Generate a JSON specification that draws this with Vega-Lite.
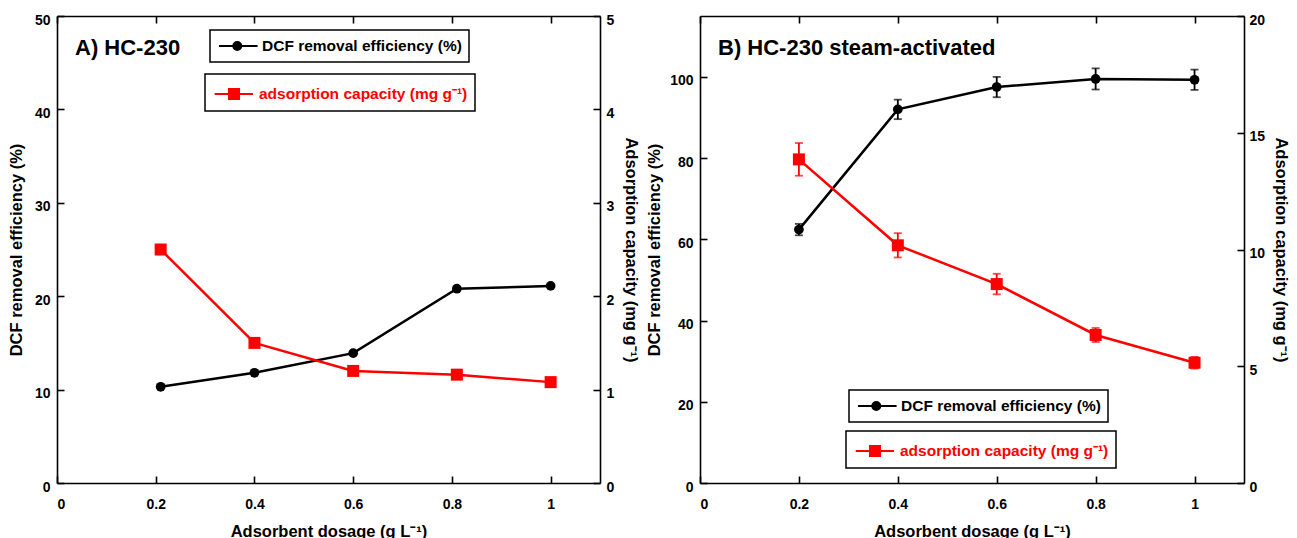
{
  "$schema": "https://vega.github.io/schema/vega-lite/v6.json",
  "background": "white",
  "padding": {"left": 8, "top": 13, "right": 0, "bottom": 0},
  "spacing": 7,
  "datasets": {
    "a_eff": [
      {"dosage": 0.21, "value": 10.3, "series": "DCF removal efficiency (%)"},
      {"dosage": 0.4, "value": 11.8, "series": "DCF removal efficiency (%)"},
      {"dosage": 0.6, "value": 13.9, "series": "DCF removal efficiency (%)"},
      {"dosage": 0.81, "value": 20.8, "series": "DCF removal efficiency (%)"},
      {"dosage": 1.0, "value": 21.1, "series": "DCF removal efficiency (%)"}
    ],
    "a_cap": [
      {"dosage": 0.21, "value": 2.5, "series": "adsorption capacity (mg g⁻¹)"},
      {"dosage": 0.4, "value": 1.5, "series": "adsorption capacity (mg g⁻¹)"},
      {"dosage": 0.6, "value": 1.2, "series": "adsorption capacity (mg g⁻¹)"},
      {"dosage": 0.81, "value": 1.16, "series": "adsorption capacity (mg g⁻¹)"},
      {"dosage": 1.0, "value": 1.08, "series": "adsorption capacity (mg g⁻¹)"}
    ],
    "b_eff": [
      {"dosage": 0.2, "value": 62.4, "err": 1.4, "series": "DCF removal efficiency (%)"},
      {"dosage": 0.4, "value": 92.0, "err": 2.4, "series": "DCF removal efficiency (%)"},
      {"dosage": 0.6, "value": 97.5, "err": 2.5, "series": "DCF removal efficiency (%)"},
      {"dosage": 0.8, "value": 99.5, "err": 2.6, "series": "DCF removal efficiency (%)"},
      {"dosage": 1.0, "value": 99.3, "err": 2.5, "series": "DCF removal efficiency (%)"}
    ],
    "b_cap": [
      {"dosage": 0.2, "value": 13.86, "err": 0.7, "series": "adsorption capacity (mg g⁻¹)"},
      {"dosage": 0.4, "value": 10.18, "err": 0.52, "series": "adsorption capacity (mg g⁻¹)"},
      {"dosage": 0.6, "value": 8.52, "err": 0.44, "series": "adsorption capacity (mg g⁻¹)"},
      {"dosage": 0.8, "value": 6.34, "err": 0.3, "series": "adsorption capacity (mg g⁻¹)"},
      {"dosage": 1.0, "value": 5.15, "err": 0.25, "series": "adsorption capacity (mg g⁻¹)"}
    ]
  },
  "hconcat": [
    {
      "width": 543,
      "height": 467,
      "title": {"text": "A) HC-230", "anchor": "start", "frame": "group", "dx": 18, "offset": -64, "baseline": "alphabetic", "font": "Liberation Sans", "fontSize": 22, "fontWeight": "bold", "color": "black"},
      "layer": [
        {
          "data": {"name": "a_eff"},
          "encoding": {
            "x": {"field": "dosage", "type": "quantitative", "scale": {"domain": [0, 1.1], "nice": false, "zero": false},
              "axis": {"orient": "bottom", "values": [0, 0.2, 0.4, 0.6, 0.8, 1], "format": "~g", "tickSize": -7, "labelPadding": 21, "title": "Adsorbent dosage (g L⁻¹)", "titlePadding": 12}},
            "y": {"field": "value", "type": "quantitative", "scale": {"domain": [0, 50], "nice": false},
              "axis": {"orient": "left", "values": [0, 10, 20, 30, 40, 50], "tickSize": -7, "labelPadding": 14, "labelOffset": 4, "title": "DCF removal efficiency (%)", "titlePadding": 10}}
          },
          "layer": [
            {
              "mark": {"type": "line", "strokeWidth": 2.5, "point": {"filled": true, "shape": "circle", "size": 95}},
              "encoding": {
                "color": {"field": "series", "type": "nominal", "scale": {"range": ["black"]},
                  "legend": {"title": null, "orient": "none", "legendX": 153, "legendY": 14, "strokeColor": "black", "fillColor": "white", "padding": 7,
                    "symbolType": "M-0.875,0H3.95M1.91,0A0.5,0.5,0,1,1,0.91,0A0.5,0.5,0,1,1,1.91,0Z", "symbolSize": 256, "symbolStrokeWidth": 2, "symbolFillColor": "black", "symbolStrokeColor": "black",
                    "labelOffset": 27, "labelColor": "black", "labelLimit": 500,
                    "encode": {"symbols": {"update": {"fill": {"value": "black"}, "stroke": {"value": "black"}, "strokeWidth": {"value": 2}, "opacity": {"value": 1}}}, "legend": {"update": {"strokeWidth": {"value": 1.5}}}}}}
              }
            }
          ]
        },
        {
          "data": {"name": "a_cap"},
          "encoding": {
            "x": {"field": "dosage", "type": "quantitative", "scale": {"domain": [0, 1.1], "nice": false, "zero": false},
              "axis": {"orient": "top", "values": [0, 0.2, 0.4, 0.6, 0.8, 1], "labels": false, "tickSize": -7, "title": null}},
            "y": {"field": "value", "type": "quantitative", "scale": {"domain": [0, 5], "nice": false},
              "axis": {"orient": "right", "values": [0, 1, 2, 3, 4, 5], "tickSize": -7, "labelPadding": 13, "labelOffset": 4, "title": "Adsorption capacity (mg g⁻¹)", "titlePadding": 9}}
          },
          "layer": [
            {
              "mark": {"type": "line", "strokeWidth": 2.5, "point": {"filled": true, "shape": "square", "size": 144}},
              "encoding": {
                "color": {"field": "series", "type": "nominal", "scale": {"range": ["#ff0000"]},
                  "legend": {"title": null, "orient": "none", "legendX": 148, "legendY": 58, "strokeColor": "black", "fillColor": "white", "padding": 7,
                    "symbolType": "M-0.86,0H2.33M0.33,-0.42H1.17V0.42H0.33Z", "symbolSize": 576, "symbolStrokeWidth": 2, "symbolFillColor": "#ff0000", "symbolStrokeColor": "#ff0000",
                    "labelOffset": 21, "labelColor": "#ff0000", "labelLimit": 500,
                    "encode": {"symbols": {"update": {"fill": {"value": "#ff0000"}, "stroke": {"value": "#ff0000"}, "strokeWidth": {"value": 2}, "opacity": {"value": 1}}}, "legend": {"update": {"strokeWidth": {"value": 1.5}}}}}}
              }
            }
          ]
        }
      ],
      "resolve": {"scale": {"y": "independent", "color": "independent"}, "axis": {"x": "independent"}}
    },
    {
      "width": 544,
      "height": 467,
      "title": {"text": "B) HC-230 steam-activated", "anchor": "start", "frame": "group", "dx": 18, "offset": -64, "baseline": "alphabetic", "font": "Liberation Sans", "fontSize": 22, "fontWeight": "bold", "color": "black"},
      "layer": [
        {
          "data": {"name": "b_eff"},
          "encoding": {
            "x": {"field": "dosage", "type": "quantitative", "scale": {"domain": [0, 1.1], "nice": false, "zero": false},
              "axis": {"orient": "bottom", "values": [0, 0.2, 0.4, 0.6, 0.8, 1], "format": "~g", "tickSize": -7, "labelPadding": 21, "title": "Adsorbent dosage (g L⁻¹)", "titlePadding": 12}},
            "y": {"field": "value", "type": "quantitative", "scale": {"domain": [0, 115], "nice": false},
              "axis": {"orient": "left", "values": [0, 20, 40, 60, 80, 100], "tickSize": -7, "labelPadding": 14, "labelOffset": 4, "title": "DCF removal efficiency (%)", "titlePadding": 7}}
          },
          "layer": [
            {
              "mark": {"type": "errorbar", "color": "black", "thickness": 1.8, "ticks": {"size": 8, "thickness": 1.8, "color": "black"}},
              "encoding": {"yError": {"field": "err"}}
            },
            {
              "mark": {"type": "line", "strokeWidth": 2.5, "point": {"filled": true, "shape": "circle", "size": 95}},
              "encoding": {
                "color": {"field": "series", "type": "nominal", "scale": {"range": ["black"]},
                  "legend": {"title": null, "orient": "none", "legendX": 149, "legendY": 374, "strokeColor": "black", "fillColor": "white", "padding": 7,
                    "symbolType": "M-0.875,0H3.95M1.91,0A0.5,0.5,0,1,1,0.91,0A0.5,0.5,0,1,1,1.91,0Z", "symbolSize": 256, "symbolStrokeWidth": 2, "symbolFillColor": "black", "symbolStrokeColor": "black",
                    "labelOffset": 27, "labelColor": "black", "labelLimit": 500,
                    "encode": {"symbols": {"update": {"fill": {"value": "black"}, "stroke": {"value": "black"}, "strokeWidth": {"value": 2}, "opacity": {"value": 1}}}, "legend": {"update": {"strokeWidth": {"value": 1.5}}}}}}
              }
            }
          ]
        },
        {
          "data": {"name": "b_cap"},
          "encoding": {
            "x": {"field": "dosage", "type": "quantitative", "scale": {"domain": [0, 1.1], "nice": false, "zero": false},
              "axis": {"orient": "top", "values": [0, 0.2, 0.4, 0.6, 0.8, 1], "labels": false, "tickSize": -7, "title": null}},
            "y": {"field": "value", "type": "quantitative", "scale": {"domain": [0, 20], "nice": false},
              "axis": {"orient": "right", "values": [0, 5, 10, 15, 20], "tickSize": -7, "labelPadding": 12, "labelOffset": 4, "title": "Adsorption capacity (mg g⁻¹)", "titlePadding": 8}}
          },
          "layer": [
            {
              "mark": {"type": "errorbar", "color": "#ff0000", "thickness": 1.8, "ticks": {"size": 8, "thickness": 1.8, "color": "#ff0000"}},
              "encoding": {"yError": {"field": "err"}}
            },
            {
              "mark": {"type": "line", "strokeWidth": 2.5, "point": {"filled": true, "shape": "square", "size": 144}},
              "encoding": {
                "color": {"field": "series", "type": "nominal", "scale": {"range": ["#ff0000"]},
                  "legend": {"title": null, "orient": "none", "legendX": 146, "legendY": 415, "strokeColor": "black", "fillColor": "white", "padding": 7,
                    "symbolType": "M-0.86,0H2.33M0.33,-0.42H1.17V0.42H0.33Z", "symbolSize": 576, "symbolStrokeWidth": 2, "symbolFillColor": "#ff0000", "symbolStrokeColor": "#ff0000",
                    "labelOffset": 21, "labelColor": "#ff0000", "labelLimit": 500,
                    "encode": {"symbols": {"update": {"fill": {"value": "#ff0000"}, "stroke": {"value": "#ff0000"}, "strokeWidth": {"value": 2}, "opacity": {"value": 1}}}, "legend": {"update": {"strokeWidth": {"value": 1.5}}}}}}
              }
            }
          ]
        }
      ],
      "resolve": {"scale": {"y": "independent", "color": "independent"}, "axis": {"x": "independent"}}
    }
  ],
  "config": {
    "view": {"stroke": null},
    "axis": {"grid": false, "domainColor": "black", "domainWidth": 1.6, "tickColor": "black", "tickWidth": 1.6,
      "labelFont": "Liberation Sans", "labelFontSize": 14, "labelFontWeight": "bold", "labelColor": "black",
      "titleFont": "Liberation Sans", "titleFontSize": 16.5, "titleFontWeight": "bold", "titleColor": "black"},
    "legend": {"labelFont": "Liberation Sans", "labelFontSize": 15.5, "labelFontWeight": "bold"}
  }
}
